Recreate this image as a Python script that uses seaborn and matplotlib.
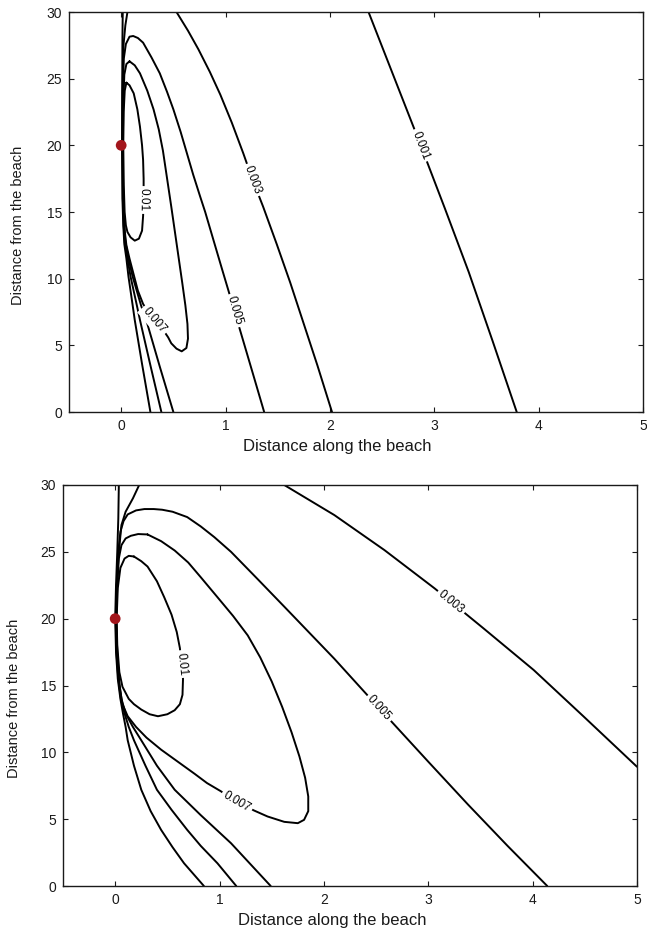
import numpy as np
import pandas as pd
import matplotlib
matplotlib.use("Agg")
import matplotlib.pyplot as plt
import seaborn as sns

# Contour levels of the concentration field and their printed labels
levels = [0.01, 0.007, 0.005, 0.003, 0.001]
level_text = {0.01: "0.01", 0.007: "0.007", 0.005: "0.005", 0.003: "0.003", 0.001: "0.001"}

# Source position (along beach, from beach)
source_x = [0.0]
source_y = [20.0]

# ---- Upper panel: contour paths (x = distance along the beach, y = distance from the beach)
up_010 = [(0.05, 24.7), (0.08, 24.5), (0.12, 23.9), (0.155, 22.7), (0.18, 21.4), (0.20, 20.0),
          (0.21, 18.9), (0.215, 17.5), (0.215, 15.9), (0.21, 14.7), (0.20, 13.6), (0.17, 13.0),
          (0.13, 12.85), (0.09, 13.1), (0.06, 13.5), (0.045, 14.0), (0.033, 15.0), (0.025, 17.0),
          (0.02, 20.0), (0.024, 22.5), (0.034, 24.1), (0.05, 24.7)]
up_007 = [(0.08, 26.3), (0.13, 26.0), (0.18, 25.4), (0.25, 24.1), (0.31, 22.7), (0.36, 21.2),
          (0.40, 19.6), (0.44, 17.5), (0.48, 15.4), (0.515, 13.5), (0.55, 11.6), (0.585, 9.7),
          (0.615, 8.0), (0.635, 6.6), (0.64, 5.5), (0.625, 4.8), (0.58, 4.55), (0.53, 4.75),
          (0.48, 5.15), (0.45, 5.6), (0.39, 6.3), (0.32, 6.9), (0.26, 7.5), (0.21, 8.1),
          (0.16, 9.1), (0.125, 10.15), (0.08, 11.5), (0.05, 12.5), (0.035, 13.5), (0.025, 15.0),
          (0.018, 17.0), (0.016, 20.0), (0.02, 23.0), (0.03, 25.3), (0.05, 26.1), (0.08, 26.3)]
up_005 = [(0.50, 0.0), (0.37, 3.4), (0.24, 6.9), (0.19, 8.0), (0.11, 10.15), (0.07, 11.5),
          (0.04, 12.8), (0.028, 14.0), (0.02, 16.0), (0.014, 20.0), (0.016, 24.0), (0.025, 26.5),
          (0.045, 27.6), (0.08, 28.15), (0.115, 28.2), (0.16, 28.05), (0.21, 27.7), (0.29, 26.6),
          (0.37, 25.4), (0.44, 24.0), (0.50, 22.7), (0.57, 21.0), (0.63, 19.4), (0.69, 17.8),
          (0.755, 16.2), (0.805, 15.0), (0.884, 12.9), (0.967, 10.7), (1.028, 9.1), (1.084, 7.6),
          (1.167, 5.4), (1.265, 2.8), (1.37, 0.0)]
up_003_a = [(0.06, 30.0), (0.04, 29.0), (0.022, 27.5), (0.013, 24.0), (0.011, 20.0), (0.016, 16.0),
            (0.024, 14.0), (0.035, 12.7), (0.06, 11.5), (0.09, 10.15), (0.15, 8.0), (0.18, 6.9),
            (0.28, 3.5), (0.385, 0.0)]
up_003_b = [(0.53, 30.0), (0.64, 28.6), (0.74, 27.2), (0.85, 25.5), (0.95, 23.8), (1.06, 21.7),
            (1.17, 19.4), (1.26, 17.4), (1.36, 15.4), (1.49, 12.6), (1.62, 9.7), (1.75, 6.6),
            (1.88, 3.5), (2.02, 0.0)]
up_001_a = [(0.015, 30.0), (0.012, 28.0), (0.01, 24.0), (0.008, 20.0), (0.012, 16.0), (0.02, 14.0),
            (0.03, 12.6), (0.05, 11.5), (0.07, 10.15), (0.11, 8.0), (0.13, 6.9), (0.20, 3.6),
            (0.28, 0.0)]
up_001_b = [(2.37, 30.0), (2.62, 25.0), (2.87, 20.0), (3.10, 15.3), (3.33, 10.5), (3.56, 5.3),
            (3.79, 0.0)]

# ---- Lower panel: contour paths
lo_010 = [(0.18, 24.65), (0.25, 24.3), (0.31, 23.9), (0.40, 22.8), (0.47, 21.6), (0.54, 20.3),
          (0.59, 19.0), (0.62, 17.8), (0.635, 16.6), (0.65, 15.5), (0.645, 14.3), (0.62, 13.6),
          (0.57, 13.15), (0.50, 12.85), (0.41, 12.7), (0.33, 12.85), (0.25, 13.2), (0.18, 13.6),
          (0.13, 14.0), (0.07, 14.9), (0.04, 16.0), (0.02, 18.0), (0.014, 20.0), (0.025, 22.3),
          (0.05, 23.8), (0.09, 24.5), (0.13, 24.7), (0.18, 24.65)]
lo_007 = [(0.31, 26.3), (0.44, 25.8), (0.57, 25.1), (0.70, 24.2), (0.82, 23.1), (0.97, 21.7),
          (1.13, 20.2), (1.27, 18.75), (1.39, 17.1), (1.50, 15.3), (1.60, 13.4), (1.69, 11.5),
          (1.765, 9.7), (1.82, 8.1), (1.85, 6.7), (1.85, 5.6), (1.81, 4.95), (1.75, 4.7),
          (1.62, 4.8), (1.46, 5.2), (1.33, 5.65), (1.165, 6.3), (1.01, 7.1), (0.88, 7.7),
          (0.76, 8.4), (0.60, 9.3), (0.44, 10.2), (0.30, 11.1), (0.20, 11.9), (0.12, 12.7),
          (0.07, 13.6), (0.04, 15.0), (0.02, 17.5), (0.01, 20.0), (0.02, 22.5), (0.035, 24.5),
          (0.06, 25.5), (0.10, 26.0), (0.15, 26.2), (0.22, 26.33), (0.31, 26.3)]
lo_005 = [(1.49, 0.0), (1.30, 1.6), (1.11, 3.2), (0.82, 5.3), (0.57, 7.2), (0.40, 9.0),
          (0.25, 10.9), (0.17, 11.9), (0.10, 12.9), (0.06, 14.0), (0.035, 15.5), (0.016, 17.5),
          (0.008, 20.0), (0.016, 22.5), (0.03, 25.0), (0.05, 26.5), (0.08, 27.3), (0.12, 27.8),
          (0.20, 28.1), (0.28, 28.2), (0.37, 28.2), (0.45, 28.15), (0.55, 28.0), (0.69, 27.6),
          (0.82, 26.9), (0.95, 26.1), (1.11, 25.0), (1.36, 23.0), (1.62, 20.9), (2.10, 17.0),
          (2.53, 13.3), (3.00, 9.3), (3.38, 6.1), (3.76, 3.0), (4.14, 0.0)]
lo_003_a = [(0.23, 30.0), (0.17, 29.0), (0.10, 28.0), (0.06, 27.0), (0.035, 25.0), (0.015, 22.5),
            (0.005, 20.0), (0.012, 17.5), (0.03, 15.5), (0.055, 14.0), (0.09, 12.9), (0.13, 11.9),
            (0.18, 10.9), (0.29, 9.0), (0.40, 7.2), (0.54, 5.7), (0.69, 4.2), (0.82, 3.0),
            (0.98, 1.7), (1.16, 0.0)]
lo_003_b = [(1.62, 30.0), (2.10, 27.75), (2.58, 25.13), (3.06, 22.27), (3.22, 21.25), (3.53, 19.27),
            (4.01, 16.16), (4.49, 12.67), (5.0, 8.92)]
lo_001 = [(0.035, 30.0), (0.03, 27.5), (0.02, 25.0), (0.008, 22.5), (0.0, 20.0), (0.008, 17.5),
          (0.025, 15.5), (0.05, 14.0), (0.075, 12.9), (0.10, 11.9), (0.12, 10.9), (0.18, 9.0),
          (0.25, 7.2), (0.34, 5.6), (0.44, 4.2), (0.55, 2.9), (0.66, 1.7), (0.85, 0.0)]

upper_paths = [(0.01, up_010), (0.007, up_007), (0.005, up_005), (0.003, up_003_a),
               (0.003, up_003_b), (0.001, up_001_a), (0.001, up_001_b)]
lower_paths = [(0.01, lo_010), (0.007, lo_007), (0.005, lo_005), (0.003, lo_003_a),
               (0.003, lo_003_b), (0.001, lo_001)]

# Where each inline label sits on its contour
upper_label_at = {0.01: (0.215, 15.9), 0.007: (0.32, 6.9), 0.005: (1.084, 7.6),
                  0.003: (1.26, 17.4), 0.001: (2.87, 20.0)}
lower_label_at = {0.01: (0.635, 16.6), 0.007: (1.165, 6.3), 0.005: (2.53, 13.3),
                  0.003: (3.22, 21.25)}


def paths_frame(paths):
    rows = []
    for seg, (lev, pts) in enumerate(paths):
        for order, (x, y) in enumerate(pts):
            rows.append({"seg": seg, "level": lev, "order": order, "x": x, "y": y})
    return pd.DataFrame(rows)


sns.set_theme(style="ticks")
plt.rcParams["font.family"] = ["Liberation Sans", "DejaVu Sans"]
plt.rcParams.update({
    "xtick.direction": "in", "ytick.direction": "in",
    "xtick.top": True, "ytick.right": True,
    "xtick.major.size": 3.5, "ytick.major.size": 3.5,
    "xtick.major.width": 0.8, "ytick.major.width": 0.8,
    "xtick.major.pad": 5, "ytick.major.pad": 5,
    "axes.linewidth": 1.0, "axes.edgecolor": "#1a1a1a",
    "xtick.color": "#1a1a1a", "ytick.color": "#1a1a1a",
    "xtick.labelsize": 10, "ytick.labelsize": 10,
})

fig = plt.figure(figsize=(6.47, 9.34), dpi=100)
ax_top = fig.add_axes([69 / 647, 1 - 412 / 934, 574 / 647, 400 / 934])
ax_bot = fig.add_axes([63 / 647, 1 - 886 / 934, 574 / 647, 401 / 934])


def draw_panel(ax, paths, label_at, xlab_x, ylab_y, ylab_x):
    df = paths_frame(paths)
    sns.lineplot(data=df, x="x", y="y", units="seg", estimator=None, sort=False,
                 color="black", lw=1.4, ax=ax, legend=False)
    ax.set_xlim(-0.5, 5)
    ax.set_ylim(0, 30)
    ax.set_xticks([0, 1, 2, 3, 4, 5])
    ax.set_yticks([0, 5, 10, 15, 20, 25, 30])
    ax.set_xlabel("Distance along the beach", fontsize=12, color="#1a1a1a")
    ax.set_ylabel("Distance from the beach", fontsize=10.5, color="#1a1a1a")
    ax.xaxis.set_label_coords(xlab_x, -0.067)
    ax.yaxis.set_label_coords(ylab_x, ylab_y)
    for s in ax.spines.values():
        s.set_visible(True)

    # inline contour labels, rotated along the local direction of the line
    for lev, (lx, ly) in label_at.items():
        best = None
        for l2, pts in paths:
            if l2 != lev:
                continue
            arr = ax.transData.transform(np.array(pts))
            target = ax.transData.transform((lx, ly))
            d = np.hypot(arr[:, 0] - target[0], arr[:, 1] - target[1])
            i = int(np.argmin(d))
            if best is None or d[i] < best[0]:
                best = (d[i], pts, arr, i)
        _, pts, arr, i = best
        i0, i1 = max(i - 1, 0), min(i + 1, len(arr) - 1)
        dx, dy = arr[i1] - arr[i0]
        ang = np.degrees(np.arctan2(dy, dx))
        if ang > 0:
            ang -= 180
        if ang < -95:
            ang += 180
        ax.text(pts[i][0], pts[i][1], level_text[lev], rotation=ang, rotation_mode="anchor",
                ha="center", va="center", fontsize=8.5, color="black", zorder=4,
                bbox=dict(boxstyle="square,pad=0.2", fc="white", ec="none"))

    sns.scatterplot(x=source_x, y=source_y, color="#a3161c", s=60, edgecolor="none",
                    ax=ax, zorder=5, legend=False)


draw_panel(ax_top, upper_paths, upper_label_at, 0.467, 0.4675, -0.077)
draw_panel(ax_bot, lower_paths, lower_label_at, 0.4695, 0.469, -0.073)

fig.savefig("out.png", dpi=100, facecolor="white")
